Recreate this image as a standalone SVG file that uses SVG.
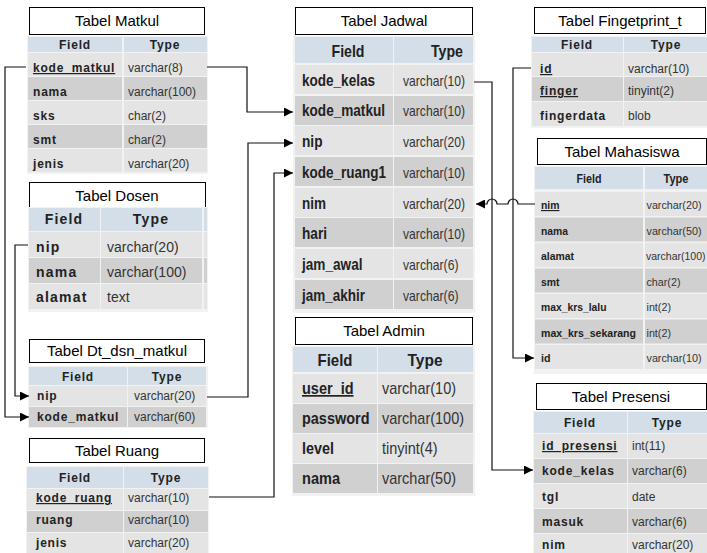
<svg xmlns="http://www.w3.org/2000/svg" width="707" height="553" viewBox="0 0 707 553">
<style>
.bgc{fill:#ffffff}
.tb{fill:#f2f2f2}
.ttl{fill:#ffffff;stroke:#000;stroke-width:1}
.hd{fill:#d3dee8}
.r1{fill:#e4e4e4}
.r2{fill:#d0d0d0}
.tt{font-family:"Liberation Sans",Arial,sans-serif;font-size:15px;fill:#000;text-anchor:middle}
.h{font-family:"Liberation Sans",Arial,sans-serif;font-size:12px;font-weight:bold;letter-spacing:0.8px;fill:#222;text-anchor:middle}
.f{font-family:"Liberation Sans",Arial,sans-serif;font-size:12px;font-weight:bold;letter-spacing:0.8px;fill:#222}
.y{font-family:"Liberation Sans",Arial,sans-serif;font-size:12px;fill:#333}
.fd{font-size:14px;letter-spacing:1.2px}
.yd{font-size:14px}
.nh{font-family:"Liberation Sans",Arial,sans-serif;font-size:17px;font-weight:bold;fill:#222;text-anchor:middle}
.nf{font-family:"Liberation Sans",Arial,sans-serif;font-size:17px;font-weight:bold;fill:#222}
.ny{font-family:"Liberation Sans",Arial,sans-serif;font-size:15px;fill:#333}
.ay{font-size:17px}
.sh{font-family:"Liberation Sans",Arial,sans-serif;font-size:13px;font-weight:bold;fill:#222;text-anchor:middle}
.sf{font-family:"Liberation Sans",Arial,sans-serif;font-size:11.5px;font-weight:bold;fill:#222}
.sy{font-family:"Liberation Sans",Arial,sans-serif;font-size:11.5px;fill:#333}
.u{text-decoration:underline}
.c{fill:none;stroke:#111;stroke-width:1.2}
</style>
<defs>
<marker id="ar" viewBox="0 0 10 10" refX="10" refY="5" markerWidth="9" markerHeight="9" markerUnits="userSpaceOnUse" orient="auto">
<path d="M0,0 L10,5 L0,10 z" fill="#000"/>
</marker>
</defs>
<rect class="bgc" x="0" y="0" width="707" height="553"/>

<g id="tabel-matkul">
<rect class="ttl" x="29.5" y="7.5" width="175" height="27"/>
<text class="tt" x="117" y="26">Tabel Matkul</text>
<rect class="tb" x="27" y="36" width="181" height="138"/>
<rect class="hd" x="28" y="37" width="94" height="15"/><rect class="hd" x="124" y="37" width="83" height="15"/>
<text class="h" x="75" y="49">Field</text><text class="h" x="165" y="49">Type</text>
<rect class="r1" x="28" y="53" width="94" height="23"/><rect class="r1" x="124" y="53" width="83" height="23"/>
<rect class="r2" x="28" y="77" width="94" height="23"/><rect class="r2" x="124" y="77" width="83" height="23"/>
<rect class="r1" x="28" y="101" width="94" height="23"/><rect class="r1" x="124" y="101" width="83" height="23"/>
<rect class="r2" x="28" y="125" width="94" height="23"/><rect class="r2" x="124" y="125" width="83" height="23"/>
<rect class="r1" x="28" y="149" width="94" height="23"/><rect class="r1" x="124" y="149" width="83" height="23"/>
<text class="f u" x="33" y="72">kode_matkul</text><text class="y" x="128" y="72">varchar(8)</text>
<text class="f" x="33" y="96">nama</text><text class="y" x="128" y="96">varchar(100)</text>
<text class="f" x="33" y="120">sks</text><text class="y" x="128" y="120">char(2)</text>
<text class="f" x="33" y="144">smt</text><text class="y" x="128" y="144">char(2)</text>
<text class="f" x="33" y="168">jenis</text><text class="y" x="128" y="168">varchar(20)</text>
</g>

<g id="tabel-dosen">
<rect class="ttl" x="29.5" y="182.5" width="176" height="25"/>
<text class="tt" x="117" y="201">Tabel Dosen</text>
<rect class="tb" x="28" y="207" width="180" height="105"/>
<rect class="hd" x="29" y="208" width="71" height="23"/><rect class="hd" x="101" y="208" width="101" height="23"/><rect class="hd" x="204" y="208" width="3" height="23"/>
<text class="h fd" x="64" y="224">Field</text><text class="h fd" x="151" y="224">Type</text>
<rect class="r1" x="29" y="232" width="71" height="25"/><rect class="r1" x="101" y="232" width="101" height="25"/><rect class="r1" x="204" y="232" width="3" height="25"/>
<rect class="r2" x="29" y="258" width="71" height="25"/><rect class="r2" x="101" y="258" width="101" height="25"/><rect class="r2" x="204" y="258" width="3" height="25"/>
<rect class="r1" x="29" y="284" width="71" height="25"/><rect class="r1" x="101" y="284" width="101" height="25"/><rect class="r1" x="204" y="284" width="3" height="25"/>
<text class="f fd" x="36" y="252">nip</text><text class="y yd" x="107" y="252">varchar(20)</text>
<text class="f fd" x="36" y="277">nama</text><text class="y yd" x="107" y="277">varchar(100)</text>
<text class="f fd" x="36" y="302">alamat</text><text class="y yd" x="107" y="302">text</text>
</g>

<g id="tabel-dt-dsn-matkul">
<rect class="ttl" x="29.5" y="339.5" width="175" height="23"/>
<text class="tt" x="117" y="356">Tabel Dt_dsn_matkul</text>
<rect class="tb" x="28" y="366" width="180" height="62"/>
<rect class="hd" x="29" y="367" width="98" height="18"/><rect class="hd" x="128" y="367" width="78" height="18"/>
<text class="h" x="78" y="381">Field</text><text class="h" x="167" y="381">Type</text>
<rect class="r1" x="29" y="386" width="98" height="20"/><rect class="r1" x="128" y="386" width="78" height="20"/>
<rect class="r2" x="29" y="407" width="98" height="20"/><rect class="r2" x="128" y="407" width="78" height="20"/>
<text class="f" x="37" y="400">nip</text><text class="y" x="134" y="400">varchar(20)</text>
<text class="f" x="37" y="421">kode_matkul</text><text class="y" x="134" y="421">varchar(60)</text>
</g>

<g id="tabel-ruang">
<rect class="ttl" x="29.5" y="438.5" width="175" height="24"/>
<text class="tt" x="117" y="456">Tabel Ruang</text>
<rect class="tb" x="26" y="466" width="183" height="87"/>
<rect class="hd" x="27" y="467" width="96" height="21"/><rect class="hd" x="124" y="467" width="84" height="21"/>
<text class="h" x="75" y="482">Field</text><text class="h" x="166" y="482">Type</text>
<rect class="r1" x="27" y="489" width="96" height="21"/><rect class="r1" x="124" y="489" width="84" height="21"/>
<rect class="r2" x="27" y="511" width="96" height="21"/><rect class="r2" x="124" y="511" width="84" height="21"/>
<rect class="r1" x="27" y="533" width="96" height="20"/><rect class="r1" x="124" y="533" width="84" height="20"/>
<text class="f u" x="36" y="502">kode_ruang</text><text class="y" x="128" y="502">varchar(10)</text>
<text class="f" x="36" y="524">ruang</text><text class="y" x="128" y="524">varchar(10)</text>
<text class="f" x="36" y="547">jenis</text><text class="y" x="128" y="547">varchar(20)</text>
</g>

<g id="tabel-jadwal">
<rect class="ttl" x="295.5" y="7.5" width="177" height="27"/>
<text class="tt" x="384" y="26">Tabel Jadwal</text>
<rect class="tb" x="293" y="36" width="182" height="277"/>
<rect class="hd" x="295" y="37" width="98" height="26"/><rect class="hd" x="394" y="37" width="79" height="26"/>
<text class="nh" x="348" y="57" textLength="33" lengthAdjust="spacingAndGlyphs">Field</text><text class="nh" x="447" y="57" textLength="32" lengthAdjust="spacingAndGlyphs">Type</text>
<rect class="r1" x="295" y="65" width="98" height="29"/><rect class="r1" x="394" y="65" width="79" height="29"/>
<rect class="r2" x="295" y="96" width="98" height="29"/><rect class="r2" x="394" y="96" width="79" height="29"/>
<rect class="r1" x="295" y="126" width="98" height="29"/><rect class="r1" x="394" y="126" width="79" height="29"/>
<rect class="r2" x="295" y="157" width="98" height="29"/><rect class="r2" x="394" y="157" width="79" height="29"/>
<rect class="r1" x="295" y="188" width="98" height="29"/><rect class="r1" x="394" y="188" width="79" height="29"/>
<rect class="r2" x="295" y="218" width="98" height="29"/><rect class="r2" x="394" y="218" width="79" height="29"/>
<rect class="r1" x="295" y="249" width="98" height="29"/><rect class="r1" x="394" y="249" width="79" height="29"/>
<rect class="r2" x="295" y="280" width="98" height="29"/><rect class="r2" x="394" y="280" width="79" height="29"/>
<text class="nf" x="302" y="86" textLength="73" lengthAdjust="spacingAndGlyphs">kode_kelas</text><text class="ny" x="403" y="86" textLength="62" lengthAdjust="spacingAndGlyphs">varchar(10)</text>
<text class="nf" x="302" y="116" textLength="83" lengthAdjust="spacingAndGlyphs">kode_matkul</text><text class="ny" x="403" y="116" textLength="62" lengthAdjust="spacingAndGlyphs">varchar(10)</text>
<text class="nf" x="302" y="147" textLength="20.5" lengthAdjust="spacingAndGlyphs">nip</text><text class="ny" x="403" y="147" textLength="62" lengthAdjust="spacingAndGlyphs">varchar(20)</text>
<text class="nf" x="302" y="178" textLength="84" lengthAdjust="spacingAndGlyphs">kode_ruang1</text><text class="ny" x="403" y="178" textLength="62" lengthAdjust="spacingAndGlyphs">varchar(10)</text>
<text class="nf" x="302" y="209" textLength="24" lengthAdjust="spacingAndGlyphs">nim</text><text class="ny" x="403" y="209" textLength="62" lengthAdjust="spacingAndGlyphs">varchar(20)</text>
<text class="nf" x="302" y="239" textLength="25" lengthAdjust="spacingAndGlyphs">hari</text><text class="ny" x="403" y="239" textLength="62" lengthAdjust="spacingAndGlyphs">varchar(10)</text>
<text class="nf" x="302" y="270" textLength="60.5" lengthAdjust="spacingAndGlyphs">jam_awal</text><text class="ny" x="403" y="270" textLength="55.5" lengthAdjust="spacingAndGlyphs">varchar(6)</text>
<text class="nf" x="302" y="301" textLength="63" lengthAdjust="spacingAndGlyphs">jam_akhir</text><text class="ny" x="403" y="301" textLength="55.5" lengthAdjust="spacingAndGlyphs">varchar(6)</text>
</g>

<g id="tabel-admin">
<rect class="ttl" x="295.5" y="317.5" width="177" height="27"/>
<text class="tt" x="384" y="336">Tabel Admin</text>
<rect class="tb" x="292" y="346" width="183" height="150"/>
<rect class="hd" x="293" y="347" width="84" height="25"/><rect class="hd" x="378" y="347" width="95" height="25"/>
<text class="nh" x="335" y="366" textLength="35" lengthAdjust="spacingAndGlyphs">Field</text><text class="nh" x="425" y="366" textLength="35" lengthAdjust="spacingAndGlyphs">Type</text>
<rect class="r1" x="293" y="374" width="84" height="29"/><rect class="r1" x="378" y="374" width="95" height="29"/>
<rect class="r2" x="293" y="404" width="84" height="29"/><rect class="r2" x="378" y="404" width="95" height="29"/>
<rect class="r1" x="293" y="434" width="84" height="29"/><rect class="r1" x="378" y="434" width="95" height="29"/>
<rect class="r2" x="293" y="464" width="84" height="29"/><rect class="r2" x="378" y="464" width="95" height="29"/>
<text class="nf u" x="302" y="394" textLength="51.5" lengthAdjust="spacingAndGlyphs">user_id</text><text class="ny ay" x="382" y="394" textLength="74" lengthAdjust="spacingAndGlyphs">varchar(10)</text>
<text class="nf" x="302" y="424" textLength="67.5" lengthAdjust="spacingAndGlyphs">password</text><text class="ny ay" x="382" y="424" textLength="82" lengthAdjust="spacingAndGlyphs">varchar(100)</text>
<text class="nf" x="302" y="454" textLength="32" lengthAdjust="spacingAndGlyphs">level</text><text class="ny ay" x="382" y="454" textLength="55.5" lengthAdjust="spacingAndGlyphs">tinyint(4)</text>
<text class="nf" x="302" y="484" textLength="38" lengthAdjust="spacingAndGlyphs">nama</text><text class="ny ay" x="382" y="484" textLength="74" lengthAdjust="spacingAndGlyphs">varchar(50)</text>
</g>

<g id="tabel-fingetprint">
<rect class="ttl" x="534.5" y="7.5" width="171" height="26"/>
<text class="tt" x="620" y="26">Tabel Fingetprint_t</text>
<rect class="tb" x="531" y="36" width="176" height="92"/>
<rect class="hd" x="532" y="37" width="91" height="15"/><rect class="hd" x="624" y="37" width="83" height="15"/>
<text class="h" x="577" y="49">Field</text><text class="h" x="666" y="49">Type</text>
<rect class="r1" x="532" y="53" width="91" height="23"/><rect class="r1" x="624" y="53" width="83" height="23"/>
<rect class="r2" x="532" y="77" width="91" height="24"/><rect class="r2" x="624" y="77" width="83" height="24"/>
<rect class="r1" x="532" y="102" width="91" height="24"/><rect class="r1" x="624" y="102" width="83" height="24"/>
<text class="f u" x="540" y="73">id</text><text class="y" x="628" y="73">varchar(10)</text>
<text class="f u" x="540" y="95">finger</text><text class="y" x="628" y="95">tinyint(2)</text>
<text class="f" x="540" y="120">fingerdata</text><text class="y" x="628" y="120">blob</text>
</g>

<g id="tabel-mahasiswa">
<rect class="ttl" x="537.5" y="138.5" width="169" height="26"/>
<text class="tt" x="622" y="157">Tabel Mahasiswa</text>
<rect class="tb" x="534" y="166" width="173" height="208"/>
<rect class="hd" x="535" y="167" width="108" height="22"/><rect class="hd" x="645" y="167" width="62" height="22"/>
<text class="sh" x="589" y="183" textLength="25" lengthAdjust="spacingAndGlyphs">Field</text><text class="sh" x="676" y="183" textLength="25" lengthAdjust="spacingAndGlyphs">Type</text>
<rect class="r1" x="535" y="192" width="108" height="24"/><rect class="r1" x="645" y="192" width="62" height="24"/>
<rect class="r2" x="535" y="217.5" width="108" height="24"/><rect class="r2" x="645" y="217.5" width="62" height="24"/>
<rect class="r1" x="535" y="243" width="108" height="24"/><rect class="r1" x="645" y="243" width="62" height="24"/>
<rect class="r2" x="535" y="268.5" width="108" height="24"/><rect class="r2" x="645" y="268.5" width="62" height="24"/>
<rect class="r1" x="535" y="294" width="108" height="24"/><rect class="r1" x="645" y="294" width="62" height="24"/>
<rect class="r2" x="535" y="319.5" width="108" height="24"/><rect class="r2" x="645" y="319.5" width="62" height="24"/>
<rect class="r1" x="535" y="345" width="108" height="24"/><rect class="r1" x="645" y="345" width="62" height="24"/>
<text class="sf u" x="541" y="209" textLength="18.5" lengthAdjust="spacingAndGlyphs">nim</text><text class="sy" x="646.5" y="209" textLength="55" lengthAdjust="spacingAndGlyphs">varchar(20)</text>
<text class="sf" x="541" y="234.5" textLength="27" lengthAdjust="spacingAndGlyphs">nama</text><text class="sy" x="646.5" y="234.5" textLength="55" lengthAdjust="spacingAndGlyphs">varchar(50)</text>
<text class="sf" x="541" y="260" textLength="33" lengthAdjust="spacingAndGlyphs">alamat</text><text class="sy" x="646" y="260" textLength="59.5" lengthAdjust="spacingAndGlyphs" style="font-size:10.7px">varchar(100)</text>
<text class="sf" x="541" y="285.5" textLength="18.5" lengthAdjust="spacingAndGlyphs">smt</text><text class="sy" x="646.5" y="285.5" textLength="34" lengthAdjust="spacingAndGlyphs">char(2)</text>
<text class="sf" x="541" y="311" textLength="65.5" lengthAdjust="spacingAndGlyphs">max_krs_lalu</text><text class="sy" x="646.5" y="311" textLength="24.5" lengthAdjust="spacingAndGlyphs">int(2)</text>
<text class="sf" x="541" y="336.5" textLength="95" lengthAdjust="spacingAndGlyphs">max_krs_sekarang</text><text class="sy" x="646.5" y="336.5" textLength="24.5" lengthAdjust="spacingAndGlyphs">int(2)</text>
<text class="sf" x="541" y="362" textLength="9.5" lengthAdjust="spacingAndGlyphs">id</text><text class="sy" x="646.5" y="362" textLength="55" lengthAdjust="spacingAndGlyphs">varchar(10)</text>
</g>

<g id="tabel-presensi">
<rect class="ttl" x="536.5" y="383.5" width="170" height="26"/>
<text class="tt" x="621" y="402">Tabel Presensi</text>
<rect class="tb" x="533" y="411" width="174" height="142"/>
<rect class="hd" x="534" y="412" width="93" height="21"/><rect class="hd" x="628" y="412" width="79" height="21"/>
<text class="h" x="580" y="427">Field</text><text class="h" x="667" y="427">Type</text>
<rect class="r1" x="534" y="434" width="93" height="24"/><rect class="r1" x="628" y="434" width="79" height="24"/>
<rect class="r2" x="534" y="459" width="93" height="24"/><rect class="r2" x="628" y="459" width="79" height="24"/>
<rect class="r1" x="534" y="484" width="93" height="24"/><rect class="r1" x="628" y="484" width="79" height="24"/>
<rect class="r2" x="534" y="509" width="93" height="24"/><rect class="r2" x="628" y="509" width="79" height="24"/>
<rect class="r1" x="534" y="534" width="93" height="19"/><rect class="r1" x="628" y="534" width="79" height="19"/>
<text class="f u" x="542" y="450">id_presensi</text><text class="y" x="632" y="450">int(11)</text>
<text class="f" x="542" y="475">kode_kelas</text><text class="y" x="632" y="475">varchar(6)</text>
<text class="f" x="542" y="501">tgl</text><text class="y" x="632" y="501">date</text>
<text class="f" x="542" y="526">masuk</text><text class="y" x="632" y="526">varchar(6)</text>
<text class="f" x="542" y="549">nim</text><text class="y" x="632" y="549">varchar(20)</text>
</g>

<g id="connectors">
<path class="c" d="M26,67 H5 V417 H29" marker-end="url(#ar)"/>
<path class="c" d="M28,245 H15 V396 H29" marker-end="url(#ar)"/>
<path class="c" d="M207,67 H247 V112 H293" marker-end="url(#ar)"/>
<path class="c" d="M207,397 H248 V143 H293" marker-end="url(#ar)"/>
<path class="c" d="M209,497 H274 V173 H293" marker-end="url(#ar)"/>
<path class="c" d="M474,82 H492 V470 H533" marker-end="url(#ar)"/>
<path class="c" d="M531,68 H513 V358 H534" marker-end="url(#ar)"/>
<path class="c" d="M535,204 H518 A5,5 0 0 0 508,204 H497 A5,5 0 0 0 487,204 H476" marker-end="url(#ar)"/>
</g>
</svg>
